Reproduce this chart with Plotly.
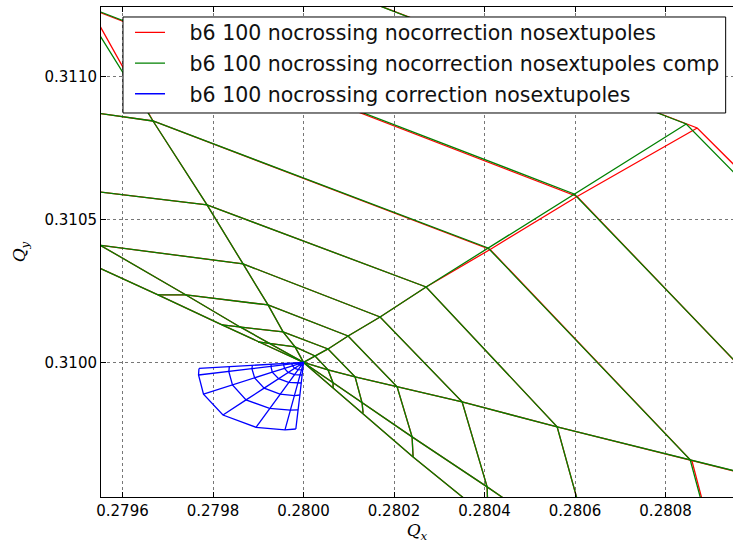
import plotly.graph_objects as go

# ---------------- data (tune coordinates) ----------------
origin_qx = 0.2800
origin_qy = 0.3100

# rows = amplitude levels (inner -> outer), columns = rays in angle order
green_qx = [
    [0.2800653, 0.2800653, 0.2800542, 0.2800255, 0.2799813, 0.2799260, 0.2798995],
    [0.2801316, 0.2801294, 0.2801139, 0.2800542, 0.2799548, 0.2798597, 0.2798199],
    [0.2802421, 0.2802399, 0.2802068, 0.2800985, 0.2799216, 0.2797404, 0.2796785],
    [0.2804079, 0.2804057, 0.2803504, 0.2801692, 0.2798664, 0.2795481, 0.2793955],
    [0.2806621, 0.2806422, 0.2805604, 0.2802709, 0.2797868, 0.2792961, 0.2791524],
    [0.2810091, 0.2809760, 0.2808544, 0.2804079, 0.2796674, 0.2788982, 0.2787103],
    [None, None, 0.2812611, 0.2805980, 0.2795061, None, None],
    [None, None, 0.2818071, 0.2808456, 0.2793027, None, None],
]
green_qy = [
    [0.3099108, 0.3099283, 0.3099738, 0.3100227, 0.3100542, 0.3100647, 0.3100717],
    [0.3098233, 0.3098583, 0.3099493, 0.3100472, 0.3101067, 0.3101242, 0.3101312],
    [0.3096693, 0.3097393, 0.3099143, 0.3100927, 0.3102012, 0.3102362, 0.3102362],
    [0.3094559, 0.3095644, 0.3098618, 0.3101592, 0.3103447, 0.3104111, 0.3104426],
    [0.3091165, 0.3093054, 0.3097743, 0.3102642, 0.3105511, 0.3106456, 0.3106736],
    [0.3086791, 0.3089451, 0.3096588, 0.3104006, 0.3108450, 0.3110095, 0.3110584],
    [None, None, 0.3094979, 0.3105896, 0.3112544, None, None],
    [None, None, 0.3092845, 0.3108345, 0.3117757, None, None],
]

red_qx = [
    [0.2800653, 0.2800653, 0.2800542, 0.2800255, 0.2799813, 0.2799260, 0.2798995],
    [0.2801316, 0.2801294, 0.2801139, 0.2800542, 0.2799548, 0.2798597, 0.2798199],
    [0.2802421, 0.2802399, 0.2802068, 0.2800985, 0.2799216, 0.2797404, 0.2796785],
    [0.2804079, 0.2804057, 0.2803504, 0.2801692, 0.2798664, 0.2795481, 0.2793955],
    [0.2806621, 0.2806422, 0.2805604, 0.2802709, 0.2797868, 0.2792961, 0.2791524],
    [0.2810091, 0.2809760, 0.2808588, 0.2804123, 0.2796674, 0.2788982, 0.2787103],
    [None, None, 0.2812611, 0.2806046, 0.2795282, None, None],
    [None, None, 0.2818535, 0.2808699, 0.2793491, None, None],
]
red_qy = [
    [0.3099108, 0.3099283, 0.3099738, 0.3100227, 0.3100542, 0.3100647, 0.3100717],
    [0.3098233, 0.3098583, 0.3099493, 0.3100472, 0.3101067, 0.3101242, 0.3101312],
    [0.3096693, 0.3097393, 0.3099143, 0.3100927, 0.3102012, 0.3102362, 0.3102362],
    [0.3094559, 0.3095644, 0.3098618, 0.3101592, 0.3103447, 0.3104111, 0.3104426],
    [0.3091165, 0.3093054, 0.3097743, 0.3102642, 0.3105511, 0.3106456, 0.3106736],
    [0.3086791, 0.3089451, 0.3096518, 0.3103954, 0.3108450, 0.3110095, 0.3110584],
    [None, None, 0.3094948, 0.3105808, 0.3112383, None, None],
    [None, None, 0.3092635, 0.3108205, 0.3117478, None, None],
]

blue_qx = [
    [0.279988, 0.279988, 0.279989, 0.279991, 0.279995, 0.279998, 0.279999],
    [0.279975, 0.279974, 0.279976, 0.279980, 0.279988, 0.279996, 0.279998],
    [0.279956, 0.279956, 0.279958, 0.279966, 0.279980, 0.279992, 0.279997],
    [0.279929, 0.279928, 0.279931, 0.279945, 0.279967, 0.279987, 0.279995],
    [0.279887, 0.279886, 0.279892, 0.279913, 0.279948, 0.279980, 0.279992],
    [0.279836, 0.279835, 0.279843, 0.279873, 0.279925, 0.279971, 0.279988],
    [0.279769, 0.279768, 0.279779, 0.279822, 0.279895, 0.279959, 0.279983],
]
blue_qy = [
    [0.309999, 0.309998, 0.309994, 0.309991, 0.309989, 0.309988, 0.309988],
    [0.309998, 0.309995, 0.309988, 0.309980, 0.309975, 0.309974, 0.309974],
    [0.309996, 0.309992, 0.309979, 0.309965, 0.309957, 0.309955, 0.309956],
    [0.309993, 0.309986, 0.309966, 0.309943, 0.309930, 0.309927, 0.309928],
    [0.309990, 0.309978, 0.309946, 0.309910, 0.309889, 0.309884, 0.309886],
    [0.309985, 0.309968, 0.309921, 0.309869, 0.309839, 0.309833, 0.309834],
    [0.309979, 0.309956, 0.309889, 0.309816, 0.309773, 0.309764, 0.309767],
]

series_names = [
    "b6 100 nocrossing nocorrection nosextupoles",
    "b6 100 nocrossing nocorrection nosextupoles comp",
    "b6 100 nocrossing correction nosextupoles",
]
series_colors = ["#ff0000", "#008000", "#0000ff"]

x_ticks = [0.2796, 0.2798, 0.2800, 0.2802, 0.2804, 0.2806, 0.2808]
y_ticks = [0.3100, 0.3105, 0.3110]


def mesh(qx, qy, ox, oy):
    xs, ys = [], []
    # arcs: same amplitude, successive rays
    for rx, ry in zip(qx, qy):
        run = []
        for a, b in list(zip(rx, ry)) + [(None, None)]:
            if a is None:
                if len(run) > 1:
                    xs += [q[0] for q in run] + [None]
                    ys += [q[1] for q in run] + [None]
                run = []
            else:
                run.append((a, b))
    # rays: from origin outward
    for j in range(len(qx[0])):
        xs += [ox] + [row[j] for row in qx if row[j] is not None] + [None]
        ys += [oy] + [row[j] for row in qy if row[j] is not None] + [None]
    return xs, ys


NB = "\u00a0" * 3

fig = go.Figure()
for k, ((qx, qy), name, col) in enumerate(zip(
    [(red_qx, red_qy), (green_qx, green_qy), (blue_qx, blue_qy)],
    series_names, series_colors,
)):
    xs, ys = mesh(qx, qy, origin_qx, origin_qy)
    fig.add_trace(go.Scatter(x=xs, y=ys, mode="lines", name=NB + name,
                             legendgroup=f"g{k}",
                             line=dict(color=col, width=1.3),
                             connectgaps=False, hoverinfo="skip"))

# legend frame (white box with black border above the data)
fig.add_shape(type="rect", xref="paper", yref="paper",
              x0=0.0348, x1=0.9884, y0=0.7837, y1=0.9796,
              line=dict(color="black", width=1), fillcolor="white",
              layer="above")

axis_common = dict(
    showgrid=True, gridcolor="#777777", griddash="dot", gridwidth=1,
    zeroline=False, showline=True, linecolor="black", linewidth=1,
    ticks="inside", ticklen=5, tickcolor="black",
    tickfont=dict(family="DejaVu Sans", size=15, color="black"),
)

fig.update_layout(
    width=733, height=543,
    margin=dict(l=101, r=0, t=7, b=46),
    paper_bgcolor="white", plot_bgcolor="white",
    showlegend=True,
    legend=dict(
        x=0.0459, y=0.9885, xanchor="left", yanchor="top",
        bgcolor="rgba(0,0,0,0)", borderwidth=0,
        font=dict(family="DejaVu Sans", size=20.5, color="#111111"),
        itemwidth=30, tracegroupgap=1,
    ),
    xaxis=dict(
        range=[0.2795525, 0.280949], tickvals=x_ticks,
        ticktext=[f"{v:.4f}" for v in x_ticks], mirror="ticks",
        title=dict(text="<i>Q</i><sub><i>x</i></sub>",
                   font=dict(family="DejaVu Serif", size=17, color="black"),
                   standoff=8),
        **axis_common,
    ),
    yaxis=dict(
        range=[0.309529, 0.311244], tickvals=y_ticks,
        ticktext=[f"{v:.4f}" for v in y_ticks], mirror=False,
        title=dict(text="<i>Q</i><sub><i>y</i></sub>",
                   font=dict(family="DejaVu Serif", size=17, color="black"),
                   standoff=14),
        **axis_common,
    ),
)

fig.write_html("out.html")
